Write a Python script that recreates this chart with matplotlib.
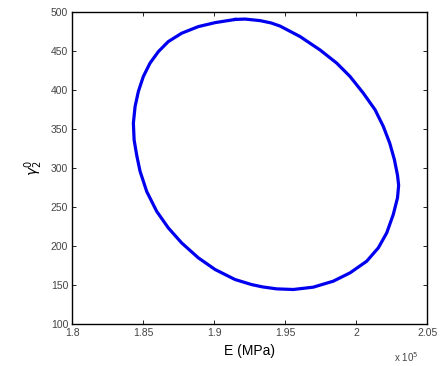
import numpy as np
import matplotlib
matplotlib.use('Agg')
import matplotlib.pyplot as plt

# points (clockwise from the top), E in units of 1e5 MPa
E = [1.9146, 1.9216, 1.9322, 1.9400, 1.9463, 1.9604, 1.9744, 1.9862, 1.9956,
     2.0049, 2.0132, 2.0190, 2.0235, 2.0268, 2.0290, 2.0298, 2.0290, 2.0260,
     2.0214, 2.0155, 2.0073, 1.9956, 1.9838, 1.9697, 1.9556, 1.9439, 1.9340,
     1.9263, 1.9146, 1.9005, 1.8887, 1.8770, 1.8676, 1.8594, 1.8524, 1.8477,
     1.8454, 1.8435, 1.8430, 1.8442, 1.8465, 1.8500, 1.8547, 1.8606, 1.8676,
     1.8770, 1.8887, 1.9005, 1.9146]
gamma = [491.0, 491.5, 489.5, 486.5, 482.5, 469.0, 451.9, 434.9, 417.7,
         396.4, 375.0, 353.6, 332.3, 311.0, 291.0, 278.0, 262.0, 240.4,
         216.9, 197.7, 180.5, 165.6, 154.9, 147.2, 144.2, 145.0, 147.5,
         150.5, 157.0, 169.9, 184.9, 204.0, 223.3, 244.6, 270.0, 296.0,
         316.0, 336.5, 358.0, 379.2, 398.5, 417.7, 434.9, 449.7, 462.6,
         473.3, 481.8, 486.9, 491.0]

xticks = [1.8, 1.85, 1.9, 1.95, 2.0, 2.05]
xticklabels = ['1.8', '1.85', '1.9', '1.95', '2', '2.05']
yticks = [100, 150, 200, 250, 300, 350, 400, 450, 500]

plt.rcParams['font.family'] = ['Liberation Sans', 'DejaVu Sans']
fig = plt.figure(figsize=(4.41, 3.66), dpi=100)
ax = fig.add_axes([0.164, 0.115, 0.805, 0.851])
ax.plot(E, gamma, color='#0000ee', lw=2.3, solid_joinstyle='round')

ax.set_xlim(1.8, 2.05)
ax.set_ylim(100, 500)
ax.set_xticks(xticks)
ax.set_xticklabels(xticklabels)
ax.set_yticks(yticks)
ax.tick_params(direction='in', top=True, right=True, length=3, width=0.6,
               labelsize=7.5, labelcolor='#444444', pad=3)
for s in ax.spines.values():
    s.set_linewidth(1.0)

ax.set_xlabel('E (MPa)', fontsize=10, labelpad=4)
ax.set_ylabel(r'$\gamma_2^0$', fontsize=10, labelpad=4)
ax.text(0.975, -0.085, r'x 10$^5$', transform=ax.transAxes, fontsize=7,
        color='#444444', ha='right', va='top')

fig.savefig('out.png', dpi=100)
